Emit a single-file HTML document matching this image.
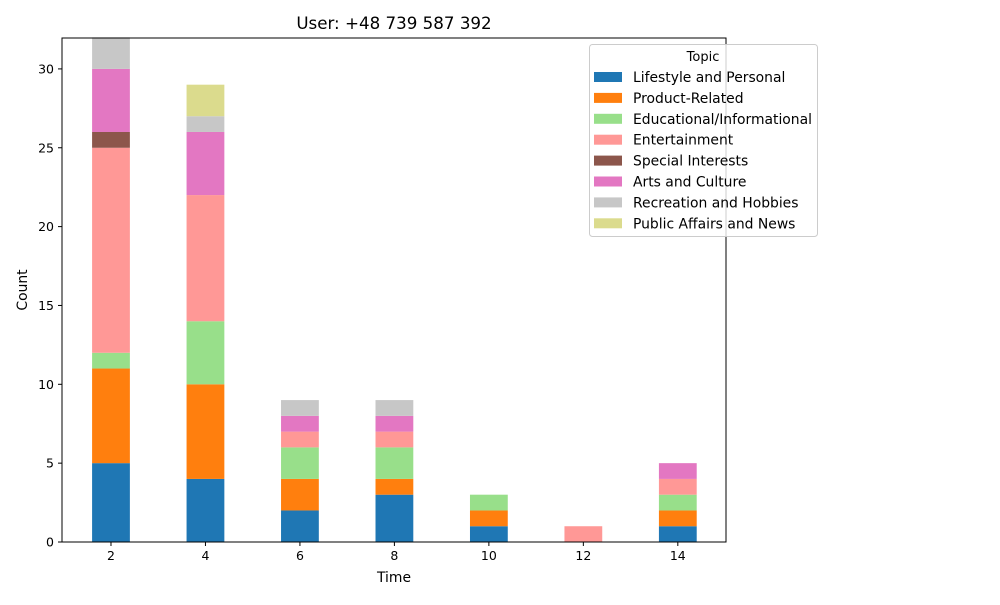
<!DOCTYPE html>
<html><head><meta charset="utf-8"><style>
body{margin:0;background:#fff;}
svg text{font-family:"DejaVu Sans","Liberation Sans",sans-serif;}
</style></head><body>
<svg id="chart" width="1000" height="600" xmlns="http://www.w3.org/2000/svg">
<rect width="1000" height="600" fill="#fff"/>
<text x="394" y="29" font-size="16.7" text-anchor="middle">User: +48 739 587 392</text>
<g id="bars"></g>
<rect x="62" y="38" width="664" height="504" fill="none" stroke="#000" stroke-width="1"/>
<g id="axes"></g>
<text x="394" y="582" font-size="13.9" text-anchor="middle">Time</text>
<text transform="translate(27,290) rotate(-90)" font-size="13.9" text-anchor="middle">Count</text>
<g id="legend"></g>
</svg>
<script>
const times = [2,4,6,8,10,12,14];
const topics = ["Lifestyle and Personal","Product-Related","Educational/Informational","Entertainment","Special Interests","Arts and Culture","Recreation and Hobbies","Public Affairs and News"];
const colors = ["#1f77b4","#ff7f0e","#98df8a","#ff9896","#8c564b","#e377c2","#c7c7c7","#dbdb8d"];
const lifestyle = [5,4,2,3,1,0,1];
const product = [6,6,2,1,1,0,1];
const educational = [1,4,2,2,1,0,1];
const entertainment = [13,8,1,1,0,1,1];
const special = [1,0,0,0,0,0,0];
const arts = [4,4,1,1,0,0,1];
const recreation = [2,1,1,1,0,0,0];
const publicAffairs = [0,2,0,0,0,0,0];
const series = [lifestyle,product,educational,entertainment,special,arts,recreation,publicAffairs];
const xTicks = [2,4,6,8,10,12,14];
const yTicks = [0,5,10,15,20,25,30];

const NS="http://www.w3.org/2000/svg";
const X0=62,X1=726,Y0=542,Y1=38;
const xmin=0.963,xmax=15.02,ymin=0,ymax=31.96;
const xs=v=>X0+(v-xmin)/(xmax-xmin)*(X1-X0);
const ys=v=>Y0-(v-ymin)/(ymax-ymin)*(Y0-Y1);
const bw=0.8;
function mk(tag,attrs,parent){const e=document.createElementNS(NS,tag);for(const k in attrs)e.setAttribute(k,attrs[k]);parent.appendChild(e);return e;}
const bars=document.getElementById('bars');
times.forEach((t,i)=>{
  let base=0;
  series.forEach((s,j)=>{
    const v=s[i];
    if(v>0){
      const r=mk('rect',{x:xs(t-bw/2),y:ys(base+v),width:xs(t+bw/2)-xs(t-bw/2),height:ys(base)-ys(base+v),fill:colors[j]},bars);
      
      
    }
    base+=v;
  });
});
const axes=document.getElementById('axes');
xTicks.forEach(t=>{
  const x=xs(t);
  const l=mk('line',{x1:x,x2:x,y1:Y0,y2:Y0+4,stroke:'#000'},axes);
  
  
  const tx=mk('text',{x:x,y:Y0+18,'font-size':12.5,'text-anchor':'middle'},axes);
  tx.textContent=t;
  
  
});
yTicks.forEach(t=>{
  const y=ys(t);
  const l=mk('line',{x1:X0-4,x2:X0,y1:y,y2:y,stroke:'#000'},axes);
  
  
  const tx=mk('text',{x:X0-8,y:y+4.5,'font-size':12.5,'text-anchor':'end'},axes);
  tx.textContent=t;
  
  
});
const lg=document.getElementById('legend');
mk('rect',{x:589.5,y:44.5,width:228,height:192,fill:'#fff','fill-opacity':0.8,stroke:'#ccc',rx:3},lg);
const lt=mk('text',{x:703,y:61,'font-size':13,'text-anchor':'middle'},lg);
lt.textContent='Topic';


topics.forEach((n,j)=>{
  const y=77+j*20.9;
  const p=mk('rect',{x:594,y:y-5,width:28,height:10,fill:colors[j]},lg);
  
  
  const t=mk('text',{x:633,y:y+5,'font-size':13.9,textLength:0},lg);
  t.removeAttribute('textLength');
  t.textContent=n;
  
  
});
</script>
</body></html>
